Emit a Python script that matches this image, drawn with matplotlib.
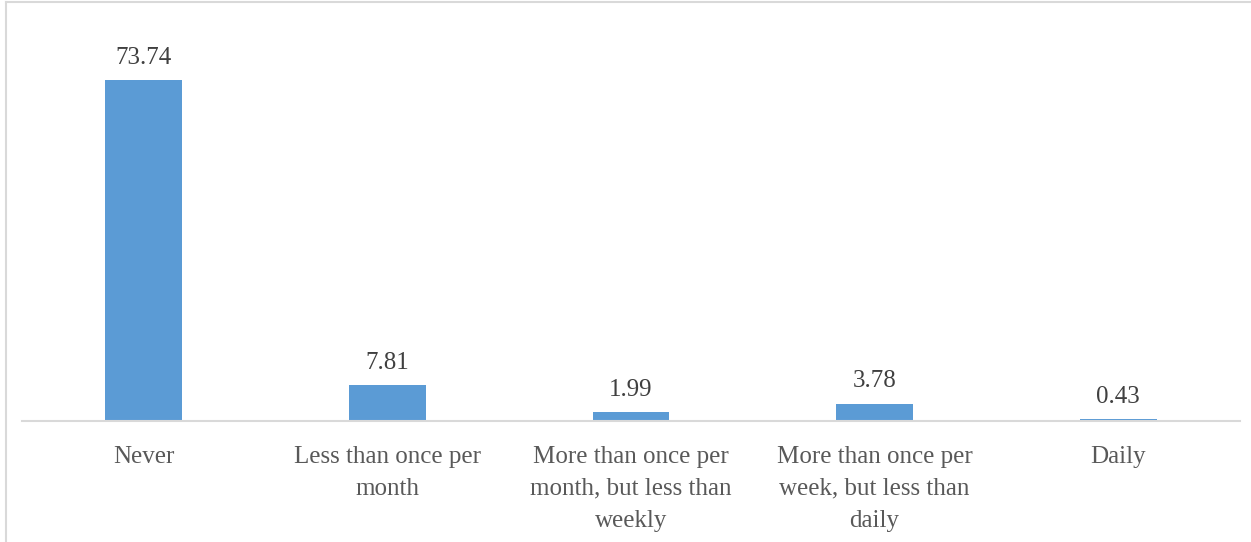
import matplotlib
matplotlib.use("Agg")
import matplotlib.pyplot as plt
from matplotlib.lines import Line2D

categories = ["Never", "Less than once per\nmonth", "More than once per\nmonth, but less than\nweekly",
              "More than once per\nweek, but less than\ndaily", "Daily"]
values = [73.74, 7.81, 1.99, 3.78, 0.43]
labels = ["73.74", "7.81", "1.99", "3.78", "0.43"]

W, H = 1251, 542
fig = plt.figure(figsize=(W / 100, H / 100), dpi=100)
fig.patch.set_facecolor("white")

ax = fig.add_axes([22 / W, (H - 421) / H, (1240 - 22) / W, (421 - 51) / H])
x = list(range(len(values)))
ax.bar(x, values, width=0.315, color="#5B9BD5", zorder=2)
ax.set_xlim(-0.5, len(values) - 0.5)
ax.set_ylim(0, 80)
for s in ["top", "right", "left"]:
    ax.spines[s].set_visible(False)
ax.spines["bottom"].set_color("#D9D9D9")
ax.spines["bottom"].set_linewidth(1.5)
ax.set_yticks([])
ax.set_xticks(x)
ax.set_xticklabels(categories, fontsize=18, color="#595959", family="Liberation Serif", linespacing=1.58)
ax.tick_params(axis="x", length=0, pad=18)

for xi, v, lab in zip(x, values, labels):
    ax.annotate(lab, (xi, v), xytext=(0, 8), textcoords="offset points",
                ha="center", va="bottom", fontsize=18, color="#404040", family="Liberation Serif")

fig.add_artist(Line2D([5.5 / W, 1.0], [1 - 1.5 / H, 1 - 1.5 / H], color="#D9D9D9", lw=1.5, transform=fig.transFigure))
fig.add_artist(Line2D([5.5 / W, 5.5 / W], [0, 1 - 1.5 / H], color="#D9D9D9", lw=1.5, transform=fig.transFigure))

fig.savefig("out.png", dpi=100, facecolor="white")
